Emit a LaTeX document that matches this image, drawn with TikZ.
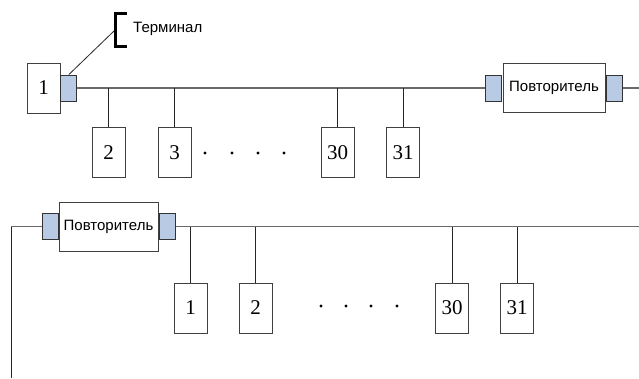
\documentclass[tikz,border=0pt]{standalone}
\usepackage{fontspec}
\setmainfont{Liberation Serif}
\newfontfamily\arialfont{Liberation Sans}
\definecolor{TermBlue}{RGB}{185, 203, 228}
\definecolor{LineGray}{RGB}{105, 105, 105}
\usetikzlibrary{positioning}

\begin{document}
\begin{tikzpicture}[x=1pt, y=-1pt, node distance=0pt and 0pt,
  st/.style={draw=black!75, line width=0.8pt, minimum width=33pt, minimum height=50pt, inner sep=0pt, font=\fontsize{21}{24}\selectfont},
  tm/.style={draw=black!80, fill=TermBlue, line width=0.8pt, minimum width=16pt, minimum height=26pt, inner sep=0pt},
  rp/.style={draw=black!75, line width=0.8pt, minimum height=49pt, inner sep=0pt, font=\arialfont\fontsize{15}{18}\selectfont},
  bus/.style={LineGray, line width=1.3pt},
  drop/.style={black!85, line width=0.8pt}]
\useasboundingbox (0,0) rectangle (639,378);
% first segment
\node[st] (a1) at (43.5,88) {1};
\node[tm, right=of a1] (a1t) {};
\node[st] (a2) at (108.5,152.5) {2};
\node[st] (a3) at (174.5,152.5) {3};
\node[st] (a30) at (337.5,152.5) {30};
\node[st] (a31) at (403,152.5) {31};
\node[rp, minimum width=102pt] (r1) at (554,88) {Повторитель};
\node[tm, left=1pt of r1] (r1l) {};
\node[tm, right=1pt of r1] (r1r) {};
\coordinate (e1) at (639,88);
\draw[bus] (a1t) -- (r1l);
\draw[bus] (r1r) -- (e1);
\foreach \n in {a2,a3,a30,a31} \draw[drop] (\n.north) -- (\n.north |- a1t.east);
\foreach \x in {205,232,258,284} \fill (\x,153) circle (1.7);
% terminal label
\node[font=\arialfont\fontsize{15}{18}\selectfont, anchor=west, inner sep=0pt] (lbl) at (133,29) {Терминал};
\coordinate (br) at (114,31);
\draw[drop] (a1t.north) -- (br);
\draw[line width=2.6pt] (127,13.5) -| (115.5,46.5) -- (127,46.5);
% second segment
\node[rp, minimum width=99pt] (r2) at (108.5,226.5) {Повторитель};
\node[tm, left=of r2] (r2l) {};
\node[tm, right=1pt of r2] (r2r) {};
\coordinate (c2) at (11,226.5);
\coordinate (s2) at (11,378);
\coordinate (e2) at (639,226.5);
\node[st] (b1) at (190.5,308) {1};
\node[st] (b2) at (255.5,308) {2};
\node[st] (b30) at (452,308) {30};
\node[st] (b31) at (517,308) {31};
\draw[bus] (r2l) -- (c2);
\draw[drop] (c2) -- (s2);
\draw[bus] (r2r) -- (e2);
\foreach \n in {b1,b2,b30,b31} \draw[drop] (\n.north) -- (\n.north |- r2r.east);
\foreach \x in {321,346,371,397} \fill (\x,306) circle (1.7);
\end{tikzpicture}
\end{document}
